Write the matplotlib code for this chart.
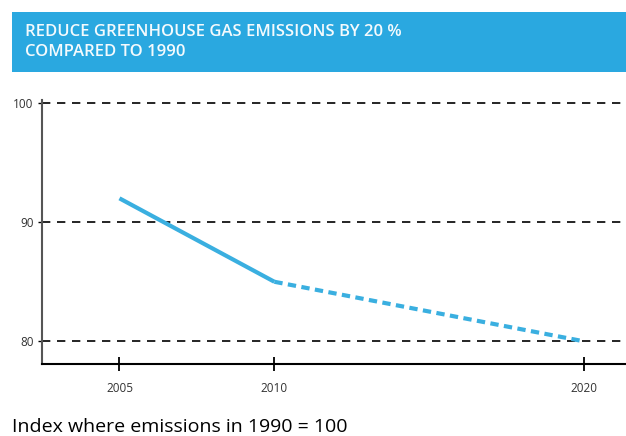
import matplotlib.pyplot as plt
from matplotlib.patches import Rectangle

# ============================================================
# DATA
# ============================================================

years_actual = [2005, 2010]
index_actual = [92, 85]

years_target = [2010, 2020]
index_target = [85, 80]

x_ticks = [2005, 2010, 2020]
y_ticks = [80, 90, 100]

title = "REDUCE GREENHOUSE GAS EMISSIONS BY 20 %\nCOMPARED TO 1990"
note = "Index where emissions in 1990 = 100"

LINE_COLOR = "#3AAFE0"
BANNER_COLOR = "#2AA8E0"

# ============================================================
# PLOT
# ============================================================

fig = plt.figure(figsize=(6.26, 4.36), dpi=100)

# banner
fig.patches.append(
    Rectangle((12 / 626, 1 - 72 / 436), 1 - 12 / 626, 60 / 436,
              transform=fig.transFigure, facecolor=BANNER_COLOR,
              edgecolor="none", zorder=0)
)
fig.text(25 / 626, 1 - 42 / 436, title, color="#F4FAFD", fontsize=12,
         fontweight="semibold", family="Open Sans", va="center", ha="left",
         linespacing=1.4)

ax = fig.add_axes([42 / 626, 1 - 364 / 436, 1 - 42 / 626, 264 / 436])

for y in y_ticks:
    ax.axhline(y, color="black", linestyle=(0, (5, 4)), linewidth=1.2,
               zorder=1)

ax.plot(years_actual, index_actual, color=LINE_COLOR, linewidth=3,
        solid_capstyle="butt", zorder=3)
ax.plot(years_target, index_target, color=LINE_COLOR, linewidth=3,
        linestyle=(0, (2.0, 1.3)), zorder=3)

ax.set_xlim(2002.5, 2021.35)
ax.set_ylim(78.1, 100.25)

ax.set_xticks(x_ticks)
ax.set_yticks(y_ticks)
ax.tick_params(axis="x", direction="inout", length=10, width=1.3,
               labelsize=8.5, pad=8, colors="black")
ax.tick_params(axis="y", direction="out", length=3, width=1,
               labelsize=8.5, pad=3)

for lbl in ax.get_xticklabels() + ax.get_yticklabels():
    lbl.set_family("Open Sans")
    lbl.set_color("#333333")

ax.spines["top"].set_visible(False)
ax.spines["right"].set_visible(False)
ax.spines["left"].set_color("#555555")
ax.spines["left"].set_linewidth(1.5)
ax.spines["bottom"].set_linewidth(1.5)

fig.text(12 / 626, 1 - 427 / 436, note, fontsize=14, family="Open Sans",
         va="center", ha="left", color="black")

plt.savefig("out.png", dpi=100)
